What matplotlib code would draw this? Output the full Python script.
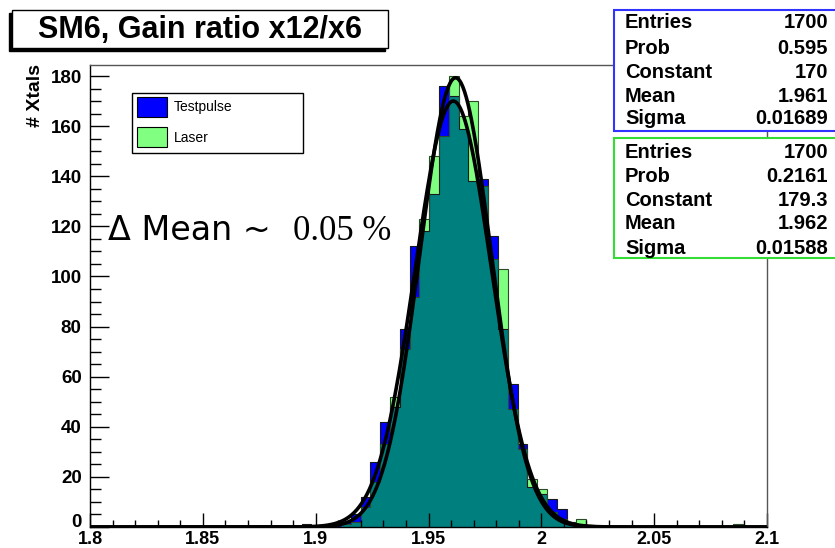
import numpy as np
import matplotlib.pyplot as plt
from matplotlib.patches import Rectangle
from matplotlib.ticker import MultipleLocator, FuncFormatter

# histogram binning
bin_start = 1.8938
bin_width = 0.004348

testpulse_counts = [1, 0, 0, 1, 2, 5, 12, 26, 42, 48, 79, 112, 118, 133, 176,
                    172, 159, 138, 139, 116, 79, 57, 33, 16, 13, 11, 7, 1, 0,
                    0, 0, 0, 0, 0, 0, 0, 0, 0, 0, 0, 0, 0, 0, 0, 0]
laser_counts = [0, 0, 0, 0, 1, 2, 8, 18, 33, 52, 71, 92, 123, 148, 156,
                180, 164, 170, 136, 107, 103, 47, 31, 19, 15, 6, 3, 2, 3,
                0, 0, 0, 0, 0, 0, 0, 0, 0, 0, 0, 0, 0, 0, 0, 1]

# gaussian fits: constant, mean, sigma
fit_testpulse = (170.0, 1.961, 0.01689)
fit_laser = (179.3, 1.962, 0.01588)

stats_testpulse = [("Entries", "1700"), ("Prob", "0.595"), ("Constant", "170"),
                   ("Mean", "1.961"), ("Sigma", "0.01689")]
stats_laser = [("Entries", "1700"), ("Prob", "0.2161"), ("Constant", "179.3"),
               ("Mean", "1.962"), ("Sigma", "0.01588")]

title = "SM6, Gain ratio x12/x6"
legend_labels = ["Testpulse", "Laser"]

W, H = 835, 548
fig = plt.figure(figsize=(W / 100, H / 100), dpi=100)
ax = fig.add_axes([90 / W, 1 - 527 / H, 677 / W, 462 / H])

font = "Liberation Sans"

edges = bin_start + bin_width * np.arange(len(testpulse_counts) + 1)
ax.stairs(testpulse_counts, edges, fill=True, color="#0000ff")
ax.stairs(laser_counts, edges, fill=True, color="#00ff00", alpha=0.5)
ax.stairs(testpulse_counts, edges, color="#1a1a1a", lw=0.8)
ax.stairs(laser_counts, edges, color="#2a4a2a", lw=0.8)

xs = np.linspace(1.8, 2.1, 800)
for c, m, s in (fit_testpulse, fit_laser):
    ax.plot(xs, c * np.exp(-0.5 * ((xs - m) / s) ** 2), color="k", lw=2.6)

ax.set_xlim(1.8, 2.1)
ax.set_ylim(0, 184.4)
ax.xaxis.set_major_locator(MultipleLocator(0.05))
ax.xaxis.set_minor_locator(MultipleLocator(0.01))
ax.yaxis.set_major_locator(MultipleLocator(20))
ax.yaxis.set_minor_locator(MultipleLocator(5))
ax.xaxis.set_major_formatter(FuncFormatter(lambda v, p: "%g" % round(v, 3)))
# the "0" is placed by hand below, a bit higher, so it clears "1.8"
ax.yaxis.set_major_formatter(FuncFormatter(lambda v, p: "" if v == 0 else "%d" % v))
ax.tick_params(axis="x", which="major", direction="in", length=10, width=1, pad=3)
ax.tick_params(axis="x", which="minor", direction="in", length=5, width=1)
ax.tick_params(axis="y", which="major", direction="in", length=14, width=1, pad=6)
ax.tick_params(axis="y", which="minor", direction="in", length=8, width=1)
for lab in ax.get_xticklabels():
    lab.set_fontfamily(font)
    lab.set_fontweight("bold")
    lab.set_fontsize(13)
for lab in ax.get_yticklabels():
    lab.set_fontfamily(font)
    lab.set_fontweight("bold")
    lab.set_fontsize(13.5)
ax.annotate("0", xy=(0, 0), xycoords="axes fraction", xytext=(-6, 3),
            textcoords="offset points", ha="right", va="center",
            fontfamily=font, fontweight="bold", fontsize=13.5)
for sp in ax.spines.values():
    sp.set_linewidth(1)
ax.spines["top"].set_color("#555555")
ax.spines["right"].set_color("#555555")

fig.text(36 / W, 1 - 64 / H, "# Xtals", rotation=90, ha="center", va="top",
         fontfamily=font, fontweight="bold", fontsize=14)


def box(x0, y0, x1, y1, **kw):
    fig.add_artist(Rectangle((x0 / W, 1 - y1 / H), (x1 - x0) / W, (y1 - y0) / H,
                             transform=fig.transFigure, **kw))


# title with shadow
box(9, 13, 385, 51, facecolor="k", edgecolor="k")
box(12, 10, 388, 48, facecolor="white", edgecolor="k", lw=1)
fig.text(200 / W, 1 - 30 / H, title, ha="center", va="center",
         fontfamily=font, fontweight="bold", fontsize=22)

# stats boxes
for stats, y0, y1, col, rows in ((stats_testpulse, 10, 131, "#3333ff", [23, 48, 72, 97, 119]),
                                 (stats_laser, 138, 258, "#33dd33", [152, 177, 200, 224, 248])):
    box(614, y0, 845, y1, facecolor="white", edgecolor=col, lw=1.5)
    for (k, v), yy in zip(stats, rows):
        fig.text(625 / W, 1 - yy / H, k, ha="left", va="center",
                 fontfamily=font, fontweight="bold", fontsize=14.5)
        fig.text(828 / W, 1 - yy / H, v, ha="right", va="center",
                 fontfamily=font, fontweight="bold", fontsize=14.5)

# legend
box(132, 93, 303, 153, facecolor="white", edgecolor="k", lw=1)
box(137, 97, 167, 117, facecolor="#0000ff", edgecolor="k", lw=0.8)
box(137, 127, 167, 147, facecolor="#80ff80", edgecolor="k", lw=0.8)
fig.text(174 / W, 1 - 107 / H, legend_labels[0], ha="left", va="center",
         fontfamily=font, fontsize=10)
fig.text(174 / W, 1 - 138 / H, legend_labels[1], ha="left", va="center",
         fontfamily=font, fontsize=10)

# annotation
fig.text(108 / W, 1 - 240 / H, "\u0394 Mean ~", ha="left", va="baseline",
         fontfamily="DejaVu Sans", fontsize=24)
fig.text(293 / W, 1 - 240 / H, "0.05 %", ha="left", va="baseline",
         fontfamily="Liberation Serif", fontsize=25)

fig.savefig("out.png", dpi=100)
